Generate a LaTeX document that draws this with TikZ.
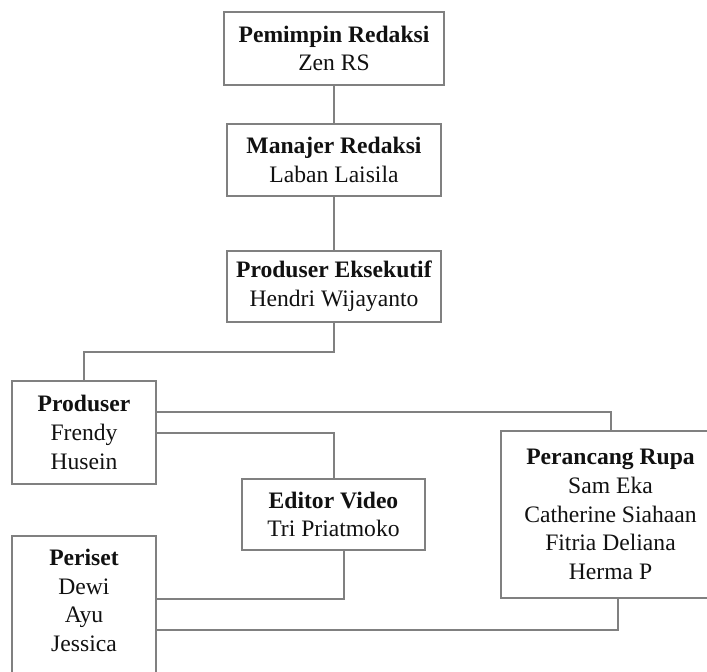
\documentclass[tikz,border=0pt]{standalone}
\usepackage{fontspec}
\setmainfont{Liberation Serif}
\usepackage{xcolor}
\usepackage{tikz}
\usetikzlibrary{positioning,calc}
\definecolor{ink}{HTML}{111111}
\definecolor{frame}{HTML}{808080}
\tikzset{
  font=\fontsize{11.8}{14.3}\selectfont,
  unit/.style={
    draw=frame, line width=1pt, fill=white, text=ink, align=center,
    inner sep=0pt
  },
  names/.style={text=ink, align=center, inner sep=0pt},
  link/.style={draw=frame, line width=1pt}
}
\newcommand{\role}[1]{\textbf{#1}}

\begin{document}
\begin{tikzpicture}[x=0.5pt,y=-0.5pt]
  \useasboundingbox (0,0) rectangle (707,671);
  \clip (0,0) rectangle (707,671);

  % management
  \node[unit, minimum width=110pt, minimum height=36.5pt] (pim) at (334,48.5)
     {\role{Pemimpin Redaksi}\\Zen RS};
  \node[unit, minimum width=107pt, minimum height=36pt] (man) at (334,160)
     {\role{Manajer Redaksi}\\Laban Laisila};
  \node[unit, minimum width=107pt, minimum height=35.5pt] (pex) at (334,286.5)
     {\role{Produser Eksekutif}\\Hendri Wijayanto};

  % production team
  \node[unit, minimum width=72pt, minimum height=51.5pt] (prod) at (84,432.5)
     {\role{Produser}\\Frendy\\Husein};
  \node[unit, minimum width=91.5pt, minimum height=35.5pt] (edit) at (333.5,514.5)
     {\role{Editor Video}\\Tri Priatmoko};
  \node[unit, minimum width=109.5pt, minimum height=83.5pt] (peran) at (610.5,514.5)
     {\role{Perancang Rupa}\\Sam Eka\\Catherine Siahaan\\Fitria Deliana\\Herma P};
  \node[unit, minimum width=72pt, minimum height=82pt] (peri) at (84,618) {};
  \node[names, anchor=north, yshift=-7pt] (perinames) at (peri.north)
     {\role{Periset}\\Dewi\\Ayu\\Jessica};

  \draw[link] (pim) -- (man);
  \draw[link] (man) -- (pex);
  \draw[link] (pex.south) -- (pex.south |- 0,352) -| (prod.north);
  \draw[link] (prod.east |- 0,412) -| (peran.north);
  \draw[link] (prod.east) -| (edit.north);
  \draw[link] ([xshift=5.25pt]edit.south) |- (peri.east |- 0,599);
  \draw[link] ([xshift=3.75pt]peran.south) |- (peri.east |- 0,630);
\end{tikzpicture}
\end{document}
